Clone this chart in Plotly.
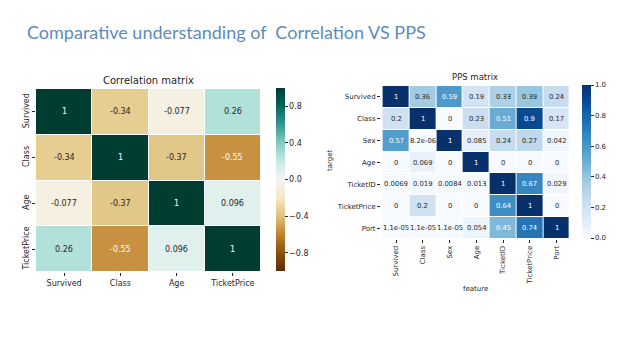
import plotly.graph_objects as go

corr_labels = ["Survived", "Class", "Age", "TicketPrice"]
corr_values = [
    [1, -0.34, -0.077, 0.26],
    [-0.34, 1, -0.37, -0.55],
    [-0.077, -0.37, 1, 0.096],
    [0.26, -0.55, 0.096, 1],
]

pps_features = ["Survived", "Class", "Sex", "Age", "TicketID", "TicketPrice", "Port"]
pps_targets = ["Survived", "Class", "Sex", "Age", "TicketID", "TicketPrice", "Port"]
pps_values = [
    [1, 0.36, 0.59, 0.19, 0.33, 0.39, 0.24],
    [0.2, 1, 0, 0.23, 0.51, 0.9, 0.17],
    [0.57, 8.2e-06, 1, 0.085, 0.24, 0.27, 0.042],
    [0, 0.069, 0, 1, 0, 0, 0],
    [0.0069, 0.019, 0.0084, 0.013, 1, 0.67, 0.029],
    [0, 0.2, 0, 0, 0.64, 1, 0],
    [1.1e-05, 1.1e-05, 1.1e-05, 0.054, 0.45, 0.74, 1],
]

FONT = "DejaVu Sans"
TXT = "#262626"
W, H = 640, 360

def px_x(p):
    return p / W

def px_y(p):
    return 1 - p / H

fig = go.Figure()

fig.add_trace(go.Heatmap(
    z=corr_values, x=corr_labels, y=corr_labels,
    colorscale="BrBG", zmin=-1, zmax=1, xgap=1, ygap=1,
    xaxis="x", yaxis="y", hoverinfo="skip",
    colorbar=dict(
        x=px_x(276), xanchor="left", thickness=9, thicknessmode="pixels",
        y=(px_y(88) + px_y(271)) / 2, yanchor="middle",
        len=(271 - 88) / H, lenmode="fraction", xpad=0, ypad=0,
        outlinewidth=0, tickvals=[-0.8, -0.4, 0.0, 0.4, 0.8], tickformat=".1f",
        ticks="outside", ticklen=3, tickcolor=TXT,
        tickfont=dict(family=FONT, size=8, color=TXT),
    ),
))

fig.add_trace(go.Heatmap(
    z=pps_values, x=pps_features, y=pps_targets,
    colorscale="Blues", zmin=0, zmax=1, xgap=1, ygap=1,
    xaxis="x2", yaxis="y2", hoverinfo="skip",
    colorbar=dict(
        x=px_x(582), xanchor="left", thickness=9, thicknessmode="pixels",
        y=(px_y(85) + px_y(238)) / 2, yanchor="middle",
        len=(238 - 85) / H, lenmode="fraction", xpad=0, ypad=0,
        outlinewidth=0, tickvals=[0, 0.2, 0.4, 0.6, 0.8, 1.0], tickformat=".1f",
        ticks="outside", ticklen=3, tickcolor=TXT,
        tickfont=dict(family=FONT, size=7, color=TXT),
    ),
))

annotations = []
for i, row_lab in enumerate(corr_labels):
    for j, col_lab in enumerate(corr_labels):
        v = corr_values[i][j]
        annotations.append(dict(
            x=col_lab, y=row_lab, xref="x", yref="y", text=format(v, ".2g"),
            showarrow=False,
            font=dict(family=FONT, size=8, color="white" if abs(v) > 0.5 else TXT),
        ))
for i, row_lab in enumerate(pps_targets):
    for j, col_lab in enumerate(pps_features):
        v = pps_values[i][j]
        annotations.append(dict(
            x=col_lab, y=row_lab, xref="x2", yref="y2", text=format(v, ".2g"),
            showarrow=False,
            font=dict(family=FONT, size=6.8, color="white" if v > 0.4 else TXT),
        ))

def label(text, x, y, size, angle=0, family=FONT, color=TXT, xanchor="center"):
    return dict(text=text, x=px_x(x), y=px_y(y), xref="paper", yref="paper",
                xanchor=xanchor, yanchor="middle", showarrow=False, textangle=angle,
                font=dict(family=family, size=size, color=color))

annotations += [
    label("Comparative understanding of  Correlation VS PPS", 25, 32, 18,
          family="Lato", color="rgb(91,140,191)", xanchor="left"),
    label("Correlation matrix", 148, 80, 10),
    label("PPS matrix", 475, 77, 8.5),
    label("target", 330, 160, 7, angle=-90),
    label("feature", 475, 289, 7),
]

axis_common = dict(showgrid=False, zeroline=False, showline=False, ticks="outside",
                   ticklen=3, tickcolor=TXT)

fig.update_layout(
    width=W, height=H, margin=dict(l=0, r=0, t=0, b=0),
    paper_bgcolor="white", plot_bgcolor="white", showlegend=False,
    xaxis=dict(domain=[px_x(36), px_x(261)], anchor="y",
               tickfont=dict(family=FONT, size=8, color=TXT), **axis_common),
    yaxis=dict(domain=[px_y(272), px_y(89)], anchor="x", autorange="reversed",
               tickangle=-90, tickfont=dict(family=FONT, size=8, color=TXT), **axis_common),
    xaxis2=dict(domain=[px_x(381), px_x(570)], anchor="y2", tickangle=-90,
                tickfont=dict(family=FONT, size=7, color=TXT), **axis_common),
    yaxis2=dict(domain=[px_y(239), px_y(86)], anchor="x2", autorange="reversed",
                tickfont=dict(family=FONT, size=7, color=TXT), **axis_common),
    annotations=annotations,
)

fig.write_html("out.html", config={"displayModeBar": False},
               post_script="document.body.style.margin='0';")
